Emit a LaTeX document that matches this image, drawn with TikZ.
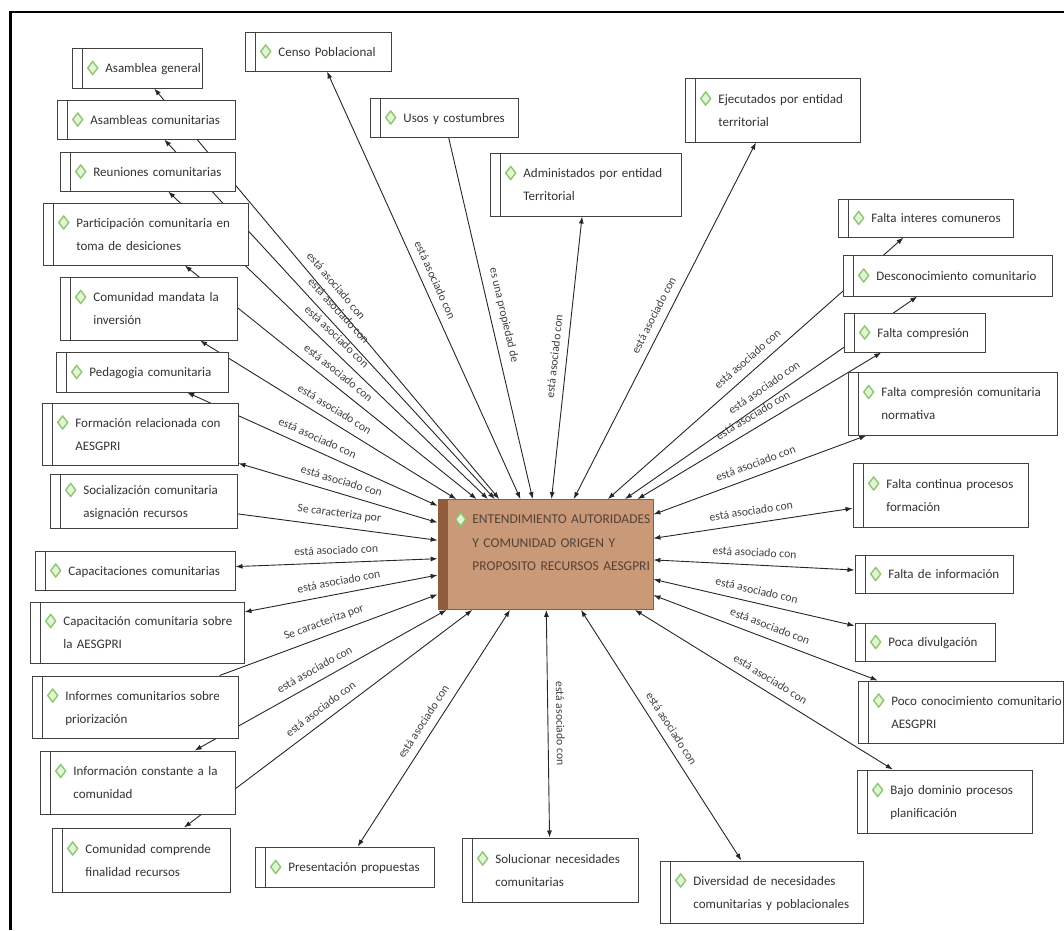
\documentclass[tikz,border=0pt]{standalone}
\usepackage{fontspec}
\setmainfont{Carlito}
\usetikzlibrary{arrows.meta, backgrounds}

\definecolor{boxline}{RGB}{65,65,65}
\definecolor{gemline}{RGB}{140,200,110}
\definecolor{gemfill}{RGB}{228,243,216}
\definecolor{entfill}{RGB}{201,153,120}
\definecolor{entdark}{RGB}{145,92,60}
\definecolor{enttext}{RGB}{85,66,55}

\newcommand{\gem}{\tikz[baseline={(0pt,-4.6pt)}]\draw[gemline, fill=gemfill, line width=1.4pt, line join=round] (0pt,6.6pt) -- (5pt,0pt) -- (0pt,-6.6pt) -- (-5pt,0pt) -- cycle;}
\newcommand{\ctext}[1]{\hspace*{15pt}\gem\kern7pt\begin{tabular}[t]{@{}l@{}}#1\end{tabular}}

\tikzset{
  cbox/.style 2 args={draw=boxline, fill=white, line width=1pt, inner sep=0pt,
    minimum width=#1pt, text width=#1pt, minimum height=#2pt, align=left,
    font=\fontsize{13}{23}\selectfont, text=black!80,
    path picture={\draw[boxline, line width=1pt] ([xshift=10pt]path picture bounding box.north west) -- ([xshift=10pt]path picture bounding box.south west);}},
  mainbox/.style={draw=entdark, fill=entfill, line width=0.8pt, inner sep=0pt,
    minimum width=215pt, text width=215pt, minimum height=110pt, align=left,
    font=\fontsize{13.5}{23.5}\selectfont, text=enttext,
    path picture={\fill[entdark] (path picture bounding box.north west) rectangle ([xshift=10pt]path picture bounding box.south west);}},
  link/.style={draw=black!85, line width=0.9pt},
  lab/.style={midway, sloped, above, inner xsep=1pt, inner ysep=8pt,
    font=\fontsize{11.7}{12}\selectfont, text=black!75},
}

\begin{document}
\begin{tikzpicture}[x=1pt, y=-1pt, >={Latex[length=7pt,width=5pt]}]
\useasboundingbox (0,0) rectangle (1064,930);
\draw[line width=2.5pt] (10.5,930) -- (10.5,12) -- (1064,12);

% nodo central
\node[mainbox] (ent) at (545.5,554.5) {\hspace*{17pt}\gem\kern6pt\begin{tabular}[t]{@{}l@{}}ENTENDIMIENTO AUTORIDADES\\Y COMUNIDAD ORIGEN Y\\PROPOSITO RECURSOS AESGPRI\\\strut\end{tabular}};

% columna izquierda
\node[cbox={130}{40}] (asg) at (137,68) {\ctext{Asamblea general}};
\node[cbox={178}{39}] (asc) at (146,119.5) {\ctext{Asambleas comunitarias}};
\node[cbox={175}{39}] (reu) at (147.5,171.5) {\ctext{Reuniones comunitarias}};
\node[cbox={205}{62}] (par) at (145.5,234) {\ctext{Participación comunitaria en\\toma de desiciones}};
\node[cbox={177}{63}] (cmi) at (148.5,308.5) {\ctext{Comunidad mandata la\\inversión}};
\node[cbox={172}{40}] (ped) at (142,372) {\ctext{Pedagogia comunitaria}};
\node[cbox={196}{62}] (frm) at (140,434) {\ctext{Formación relacionada con\\AESGPRI}};
\node[cbox={187}{54}] (soc) at (143.5,501.5) {\ctext{Socialización comunitaria\\asignación recursos}};
\node[cbox={200}{39}] (cap) at (135,570.5) {\ctext{Capacitaciones comunitarias}};
\node[cbox={214}{61}] (cas) at (137,632.5) {\ctext{Capacitación comunitaria sobre\\la AESGPRI}};
\node[cbox={206}{62}] (inf) at (135,707) {\ctext{Informes comunitarios sobre\\priorización}};
\node[cbox={195}{63}] (ict) at (137.5,782.5) {\ctext{Información constante a la\\comunidad}};
\node[cbox={178}{64}] (ccf) at (141,860) {\ctext{Comunidad comprende\\finalidad recursos}};

% abajo
\node[cbox={179}{40}] (pre) at (344.5,867) {\ctext{Presentación propuestas}};
\node[cbox={176}{64}] (sol) at (550,870) {\ctext{Solucionar necesidades\\comunitarias}};
\node[cbox={203}{62}] (dvs) at (761.5,892) {\ctext{Diversidad de necesidades\\comunitarias y poblacionales}};

% columna derecha
\node[cbox={175}{63}] (baj) at (944.5,801.5) {\ctext{Bajo dominio procesos\\planificación}};
\node[cbox={205}{62}] (poc) at (960.5,712) {\ctext{Poco conocimiento comunitario\\AESGPRI}};
\node[cbox={140}{38}] (pdv) at (925,642) {\ctext{Poca divulgación}};
\node[cbox={158}{38}] (fin) at (934,574) {\ctext{Falta de información}};
\node[cbox={175}{64}] (fcp) at (940.5,495) {\ctext{Falta continua procesos\\formación}};
\node[cbox={209}{63}] (fcn) at (952.5,403.5) {\ctext{Falta compresión comunitaria\\normativa}};
\node[cbox={141}{39}] (fco) at (914.5,332.5) {\ctext{Falta compresión}};
\node[cbox={209}{41}] (des) at (947.5,275.5) {\ctext{Desconocimiento comunitario}};
\node[cbox={175}{38}] (fic) at (925.5,218) {\ctext{Falta interes comuneros}};

% arriba
\node[cbox={175}{64}] (eje) at (772.5,110) {\ctext{Ejecutados por entidad\\territorial}};
\node[cbox={191}{63}] (adm) at (585.5,184.5) {\ctext{Administados por entidad\\Territorial}};
\node[cbox={148}{39}] (uso) at (444,117.5) {\ctext{Usos y costumbres}};
\node[cbox={146}{39}] (cpo) at (318,51.5) {\ctext{Censo Poblacional}};

% relaciones
\begin{scope}[on background layer]
\draw[link, <->] (asg) -- node[lab] {está asociado con} (ent);
\draw[link, <->] (asc) -- node[lab] {está asociado con} (ent);
\draw[link, <->] (reu) -- node[lab] {está asociado con} (ent);
\draw[link, <->] (par) -- node[lab] {está asociado con} (ent);
\draw[link, <->] (cmi) -- node[lab] {está asociado con} (ent);
\draw[link, <->] (ped) -- node[lab] {está asociado con} (ent);
\draw[link, <->] (frm) -- node[lab] {está asociado con} (ent);
\draw[link, ->] (soc) -- node[lab] {Se caracteriza por} (ent);
\draw[link, <->] (cap) -- node[lab] {está asociado con} (ent);
\draw[link, <->] (cas) -- node[lab] {está asociado con} (ent);
\draw[link, ->] (inf) -- node[lab] {Se caracteriza por} (ent);
\draw[link, <->] (ict) -- node[lab] {está asociado con} (ent);
\draw[link, <->] (ccf) -- node[lab] {está asociado con} (ent);
\draw[link, <->] (pre) -- node[lab] {está asociado con} (ent);
\draw[link, <->] (sol) -- node[lab] {está asociado con} (ent);
\draw[link, <->] (dvs) -- node[lab] {está asociado con} (ent);
\draw[link, <->] (baj) -- node[lab] {está asociado con} (ent);
\draw[link, <->] (poc) -- node[lab] {está asociado con} (ent);
\draw[link, <->] (pdv) -- node[lab] {está asociado con} (ent);
\draw[link, <->] (fin) -- node[lab] {está asociado con} (ent);
\draw[link, <->] (fcp) -- node[lab] {está asociado con} (ent);
\draw[link, <->] (fcn) -- node[lab] {está asociado con} (ent);
\draw[link, <->] (fco) -- node[lab] {está asociado con} (ent);
\draw[link, <->] (des) -- node[lab] {está asociado con} (ent);
\draw[link, <->] (fic) -- node[lab] {está asociado con} (ent);
\draw[link, <->] (eje) -- node[lab] {está asociado con} (ent);
\draw[link, <->] (adm) -- node[lab] {está asociado con} (ent);
\draw[link, ->] (uso) -- node[lab] {es una propiedad de} (ent);
\draw[link, <->] (cpo) -- node[lab] {está asociado con} (ent);
\end{scope}
\end{tikzpicture}
\end{document}
